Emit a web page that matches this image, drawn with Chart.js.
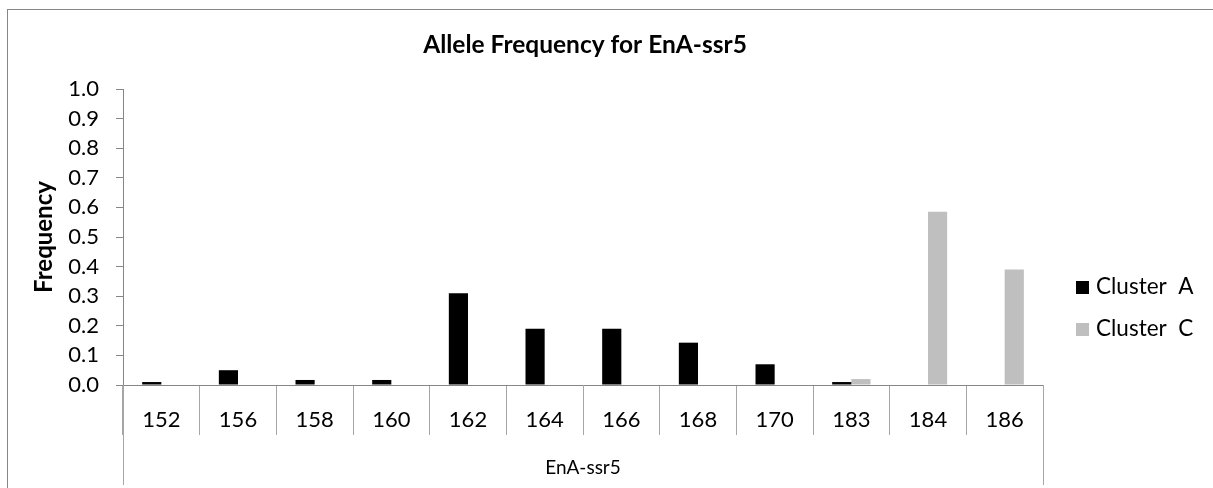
<!DOCTYPE html>
<html>
<head>
<meta charset="utf-8">
<script src="https://cdn.jsdelivr.net/npm/chart.js@4.4.0/dist/chart.umd.min.js"></script>
<style>
  body { margin: 0; background: #fff; }
  #wrap { width: 1213px; height: 488px; overflow: hidden; }
</style>
</head>
<body>
<div id="wrap"><canvas id="alleleChart" width="1213" height="488"></canvas></div>
<script>
// data
const alleles = ['152', '156', '158', '160', '162', '164', '166', '168', '170', '183', '184', '186'];
const clusterA = [0.01, 0.05, 0.017, 0.017, 0.31, 0.19, 0.19, 0.143, 0.07, 0.01, null, null];
const clusterC = [null, null, null, null, null, null, null, null, null, 0.02, 0.585, 0.39];
const seriesNames = ['Cluster  A', 'Cluster  C'];
const yMin = 0, yMax = 1, yStep = 0.1;
const chartTitle = 'Allele Frequency for EnA-ssr5';

const FONT = 'Lato, Carlito, Calibri, "Liberation Sans", sans-serif';
const AXIS_GRAY = '#868686';

// outer frame, title and the long outer dividers of the category axis
const framePlugin = {
    id: 'frame',
    beforeDraw(chart) {
        const ctx = chart.ctx;
        ctx.save();
        ctx.fillStyle = '#fff';
        ctx.fillRect(0, 0, chart.width, chart.height);
        ctx.strokeStyle = AXIS_GRAY;
        ctx.lineWidth = 1;
        ctx.strokeRect(7.5, 9.5, chart.width + 20, chart.height + 20);
        ctx.restore();
    },
    afterDraw(chart) {
        const x = chart.scales.x;
        const ctx = chart.ctx;
        ctx.save();
        ctx.strokeStyle = '#a6a6a6';
        ctx.lineWidth = 1;
        ctx.beginPath();
        [x.left, x.right].forEach(px => {
            const p = Math.round(px) + 0.5;
            ctx.moveTo(p, x.top);
            ctx.lineTo(p, x.bottom - 3);
        });
        ctx.stroke();

        // title, centred like Excel does (over plot + legend)
        ctx.fillStyle = '#000';
        ctx.font = 'bold 24.5px ' + FONT;
        ctx.textAlign = 'center';
        ctx.textBaseline = 'middle';
        ctx.fillText(chartTitle, 585, 45);
        ctx.restore();
    }
};

// Excel-style legend on the right
const sideLegend = {
    id: 'sideLegend',
    afterDraw(chart) {
        const ctx = chart.ctx;
        ctx.save();
        ctx.font = '22.5px ' + FONT;
        ctx.textBaseline = 'middle';
        chart.data.datasets.forEach((ds, i) => {
            const y = 287 + i * 42;
            ctx.fillStyle = ds.backgroundColor;
            ctx.fillRect(1076, y - 6, 13, 13);
            ctx.fillStyle = '#000';
            ctx.fillText(ds.label, 1096, y);
        });
        ctx.restore();
    }
};

const ctx = document.getElementById('alleleChart').getContext('2d');
const chart = new Chart(ctx, {
    type: 'bar',
    data: {
        labels: alleles,
        datasets: [
            { label: seriesNames[0], data: clusterA, backgroundColor: '#000000' },
            { label: seriesNames[1], data: clusterC, backgroundColor: '#bfbfbf' }
        ]
    },
    options: {
        responsive: false,
        animation: false,
        categoryPercentage: 0.5,
        barPercentage: 1.0,
        layout: { padding: { left: 0, right: 170, top: 89, bottom: 0 } },
        plugins: {
            legend: { display: false },
            tooltip: { enabled: false },
            title: { display: false }
        },
        scales: {
            x: {
                grid: { offset: true, drawOnChartArea: false, drawTicks: true, tickLength: 50, color: '#a6a6a6' },
                border: { color: AXIS_GRAY },
                ticks: { padding: -28, color: '#000', font: { family: FONT, size: 22 }, maxRotation: 0, autoSkip: false },
                title: {
                    display: true,
                    text: 'EnA-ssr5',
                    color: '#000',
                    font: { family: FONT, size: 19 },
                    padding: { top: 0, bottom: 9 }
                },
                afterFit: s => { s.height = 103; }
            },
            y: {
                min: yMin,
                max: yMax,
                ticks: {
                    stepSize: yStep,
                    padding: 17,
                    color: '#000',
                    font: { family: FONT, size: 22 },
                    callback: v => v.toFixed(1)
                },
                grid: { drawOnChartArea: false, drawTicks: true, tickLength: 7, color: AXIS_GRAY },
                border: { color: AXIS_GRAY },
                title: {
                    display: true,
                    text: 'Frequency',
                    color: '#000',
                    font: { family: FONT, size: 24, weight: 'bold' },
                    padding: { top: 30, bottom: 0 }
                },
                afterFit: s => { s.width = 123; }
            }
        }
    },
    plugins: [framePlugin, sideLegend]
});
</script>
</body>
</html>
